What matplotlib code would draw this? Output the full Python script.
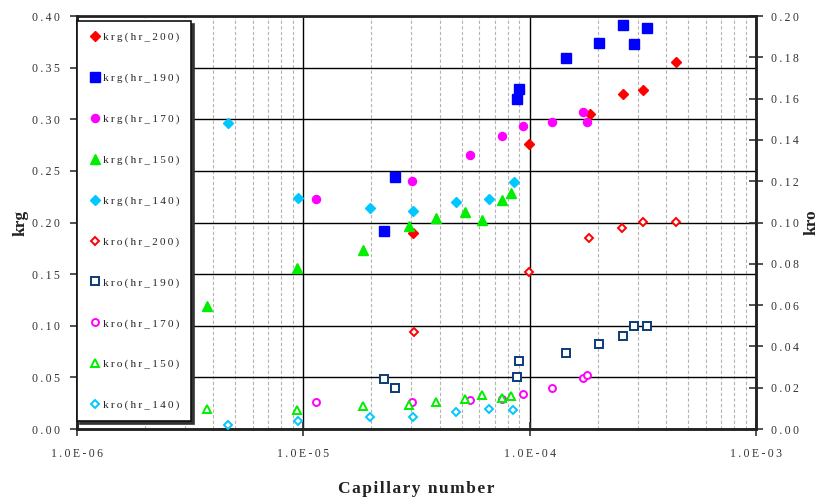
"""
Relative permeability (krg / kro) vs capillary number for several hr cases.
"""
import matplotlib
matplotlib.use("Agg")
import matplotlib.pyplot as plt
from matplotlib.ticker import FuncFormatter, LogLocator, MultipleLocator, NullFormatter

# --- gas relative permeability (left axis) ---
nc_krg_200 = [3.06e-5, 9.9e-5, 1.84e-4, 2.58e-4, 3.18e-4, 4.41e-4]
krg_200 = [0.1895, 0.276, 0.305, 0.3245, 0.328, 0.355]

nc_krg_190 = [2.27e-5, 2.54e-5, 8.79e-5, 8.96e-5, 1.45e-4, 2.02e-4, 2.58e-4, 2.88e-4, 3.29e-4]
krg_190 = [0.1915, 0.244, 0.320, 0.329, 0.359, 0.374, 0.391, 0.3725, 0.388]

nc_krg_170 = [1.14e-5, 3.03e-5, 5.43e-5, 7.55e-5, 9.38e-5, 1.25e-4, 1.72e-4, 1.79e-4]
krg_170 = [0.223, 0.240, 0.265, 0.2835, 0.293, 0.297, 0.307, 0.297]

nc_krg_150 = [3.77e-6, 9.38e-6, 1.83e-5, 2.92e-5, 3.85e-5, 5.18e-5, 6.17e-5, 7.54e-5, 8.25e-5]
krg_150 = [0.1194, 0.156, 0.173, 0.1966, 0.204, 0.2105, 0.2024, 0.2218, 0.229]

nc_krg_140 = [4.66e-6, 9.51e-6, 1.97e-5, 3.04e-5, 4.74e-5, 6.64e-5, 8.5e-5]
krg_140 = [0.2964, 0.2234, 0.214, 0.2114, 0.2195, 0.2224, 0.2392]

# --- oil relative permeability (right axis) ---
nc_kro_200 = [3.08e-5, 9.9e-5, 1.82e-4, 2.57e-4, 3.18e-4, 4.41e-4]
kro_200 = [0.0468, 0.076, 0.0925, 0.0975, 0.1001, 0.1004]

nc_kro_190 = [2.27e-5, 2.55e-5, 8.77e-5, 8.96e-5, 1.45e-4, 2.02e-4, 2.58e-4, 2.88e-4, 3.29e-4]
kro_190 = [0.0244, 0.0197, 0.0252, 0.0329, 0.0367, 0.0413, 0.0452, 0.0499, 0.0499]

nc_kro_170 = [1.14e-5, 3.03e-5, 5.43e-5, 7.55e-5, 9.38e-5, 1.25e-4, 1.72e-4, 1.79e-4]
kro_170 = [0.0129, 0.0129, 0.0139, 0.0147, 0.0169, 0.020, 0.0248, 0.0262]

nc_kro_150 = [3.77e-6, 9.4e-6, 1.83e-5, 2.92e-5, 3.85e-5, 5.18e-5, 6.17e-5, 7.54e-5, 8.25e-5]
kro_150 = [0.0095, 0.0094, 0.0111, 0.0118, 0.0132, 0.0147, 0.0166, 0.015, 0.0158]

nc_kro_140 = [4.66e-6, 9.51e-6, 1.97e-5, 3.04e-5, 4.74e-5, 6.64e-5, 8.45e-5]
kro_140 = [0.0018, 0.004, 0.0058, 0.0057, 0.0081, 0.0095, 0.009]

FONT = ["Liberation Serif", "DejaVu Serif"]
plt.rcParams["font.family"] = FONT


def spaced(s, sep="\u2009"):
    # widen letter spacing a little
    return sep.join(s)


fig = plt.figure(figsize=(8.21, 4.97), dpi=100)
ax = fig.add_axes([0.0938, 0.1368, 0.8270, 0.8310])
ax.set_xscale("log")
ax.set_xlim(1e-6, 1e-3)
ax.set_ylim(0, 0.40)
ax2 = ax.twinx()
ax2.set_ylim(0, 0.20)

# grid: solid decades / 0.05 rows, dashed grey minor decades
ax.grid(which="major", axis="both", color="k", lw=1.0, ls="-", zorder=0)
ax.grid(which="minor", axis="x", color="#b4b4b4", lw=0.8, ls=(0, (3, 2)), zorder=0)
ax.set_axisbelow(True)

ax.xaxis.set_major_locator(LogLocator(base=10, numticks=10))
ax.xaxis.set_minor_locator(LogLocator(base=10, subs=range(2, 10), numticks=10))
ax.xaxis.set_minor_formatter(NullFormatter())
ax.xaxis.set_major_formatter(FuncFormatter(lambda v, p: spaced(f"{v:.1E}")))
ax.yaxis.set_major_locator(MultipleLocator(0.05))
ax.yaxis.set_major_formatter(FuncFormatter(lambda v, p: spaced(f"{v:.2f}")))
ax2.yaxis.set_major_locator(MultipleLocator(0.02))
ax2.yaxis.set_major_formatter(FuncFormatter(lambda v, p: spaced(f"{v:.2f}")))

ax.tick_params(axis="x", which="major", direction="inout", length=10, width=1.2,
               pad=9, labelsize=8.5, colors="#333333")
ax.tick_params(axis="x", which="minor", length=0)
ax.tick_params(axis="y", direction="out", length=5, width=1.2, pad=7,
               labelsize=8.5, colors="#333333")
ax2.tick_params(axis="y", direction="inout", length=10, width=1.2, pad=6,
                labelsize=8.5, colors="#333333")

for a in (ax, ax2):
    for side in a.spines.values():
        side.set_linewidth(1.8)
        side.set_color("#222222")
ax.spines["top"].set_color("#666666")

lab = dict(fontsize=12.5, fontweight="bold", color="#222222")
ax.set_xlabel(spaced("Capillary number", "\u200a"), labelpad=15, **lab)
ax.set_ylabel("krg", labelpad=3, **lab)
ax2.set_ylabel("kro", rotation=90, labelpad=3, **lab)

# krg series (filled)
krg_series = [
    (nc_krg_200, krg_200, "D", "#ff0000", 5.0, "krg(hr_200)"),
    (nc_krg_190, krg_190, "s", "#0000ff", 6.8, "krg(hr_190)"),
    (nc_krg_170, krg_170, "o", "#ff00ff", 5.8, "krg(hr_170)"),
    (nc_krg_150, krg_150, "^", "#00ee00", 6.5, "krg(hr_150)"),
    (nc_krg_140, krg_140, "D", "#00c8ff", 5.0, "krg(hr_140)"),
]
# kro series (open)
kro_series = [
    (nc_kro_200, kro_200, "D", "#ff0000", 4.4, "kro(hr_200)"),
    (nc_kro_190, kro_190, "s", "#0b3c73", 6.2, "kro(hr_190)"),
    (nc_kro_170, kro_170, "o", "#ff00ff", 5.0, "kro(hr_170)"),
    (nc_kro_150, kro_150, "^", "#00ee00", 6.0, "kro(hr_150)"),
    (nc_kro_140, kro_140, "D", "#00c8ff", 4.4, "kro(hr_140)"),
]

handles = []
for x, y, m, c, ms, name in krg_series:
    h, = ax.plot(x, y, ls="none", marker=m, ms=ms, mfc=c, mec=c, label=name, zorder=3)
    handles.append(h)
for x, y, m, c, ms, name in kro_series:
    h, = ax2.plot(x, y, ls="none", marker=m, ms=ms, mfc="white", mec=c, mew=1.4,
                  label=name, zorder=3)
    handles.append(h)

leg = ax2.legend(handles, [spaced(h.get_label()) for h in handles],
                 loc="upper left", bbox_to_anchor=(0.0, 0.988), borderaxespad=0,
                 frameon=True, fancybox=False, edgecolor="#111111", framealpha=1,
                 shadow={"color": "#333333", "alpha": 1.0},
                 labelspacing=2.78, handlelength=1.25, handletextpad=0.12,
                 borderpad=1.0, prop={"family": FONT, "size": 8.0})
leg.get_frame().set_linewidth(1.2)
for t in leg.get_texts():
    t.set_color("#222222")

fig.savefig("out.png", dpi=100)
